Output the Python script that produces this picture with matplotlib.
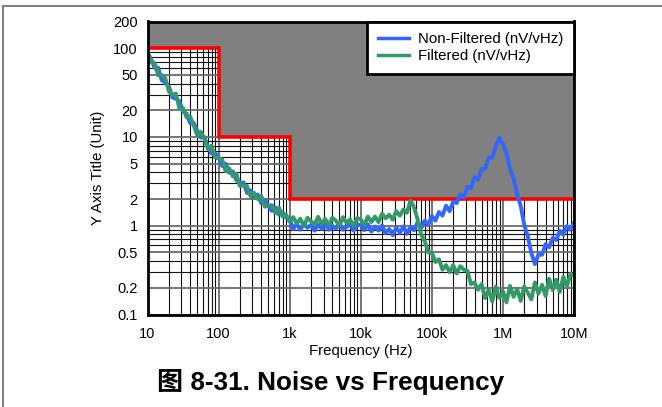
import numpy as np
import matplotlib
matplotlib.use("Agg")
import matplotlib.pyplot as plt
from matplotlib.lines import Line2D
from matplotlib.ticker import FixedLocator, NullFormatter

plt.rcParams['font.family'] = ['Liberation Sans', 'Noto Sans CJK SC', 'DejaVu Sans']

# ---- data ----
freq = np.logspace(1, 7, 121)  # 20 points per decade, 10 Hz .. 10 MHz

filtered = [85, 70, 68, 49.5, 50, 46, 32.7, 30, 30.8, 20.6,
            21.2, 16.6, 17, 13.5, 10.4, 11.4, 9.6, 7.3, 8.0, 5.9,
            5.7, 5.6, 4.1, 4.45, 3.6, 3.85, 2.8, 2.85, 2.8, 2.14,
            2.35, 2.0, 2.18, 1.64, 1.7, 1.7, 1.39, 1.6, 1.27, 1.33,
            1.11, 1.25, 1.06, 1.2, 0.99, 1.23, 1.12, 1.03, 1.26, 1.06,
            1.19, 1.01, 1.23, 1.14, 1.0, 1.25, 1.08, 1.18, 0.99, 1.22,
            1.18, 1.02, 1.27, 1.1, 1.27, 1.1, 1.37, 1.21, 1.33, 1.17,
            1.46, 1.3, 1.52, 1.4, 1.93, 1.6, 1.18, 0.79, 0.67, 0.5,
            0.5, 0.39, 0.42, 0.32, 0.36, 0.3, 0.36, 0.29, 0.35, 0.32,
            0.31, 0.22, 0.23, 0.19, 0.22, 0.153, 0.19, 0.14, 0.206, 0.154,
            0.184, 0.137, 0.21, 0.158, 0.193, 0.142, 0.207, 0.176, 0.148, 0.23,
            0.172, 0.216, 0.162, 0.253, 0.189, 0.247, 0.18, 0.266, 0.207, 0.288,
            0.275]

non_filtered = [90, 75.5, 60, 60.5, 43.7, 41, 37.3, 27.9, 27, 25.3,
                19.4, 18.3, 14.3, 14.4, 11.8, 9.8, 10, 7.7, 6.5, 6.6,
                5.9, 4.7, 5.0, 3.95, 4.1, 3.26, 3.04, 3.08, 2.34, 2.5,
                2.13, 2.25, 1.79, 1.97, 1.65, 1.47, 1.6, 1.33, 1.42, 1.23,
                1.2, 0.92, 1.05, 0.9, 1.06, 0.95, 1.02, 0.88, 1.04, 0.92,
                1.06, 0.9, 1.0, 0.93, 1.08, 0.9, 0.97, 1.04, 0.88, 1.02,
                1.03, 0.89, 1.04, 0.86, 0.98, 0.88, 1.01, 0.82, 0.92, 0.78,
                0.96, 0.83, 0.98, 0.81, 0.97, 0.89, 1.1, 0.94, 1.14, 1.03,
                1.29, 1.14, 1.43, 1.3, 1.68, 1.46, 1.86, 1.8, 2.26, 2.07,
                2.75, 2.65, 3.52, 3.31, 4.35, 4.42, 5.83, 5.86, 7.77, 9.8,
                8.3, 6.6, 4.37, 3.43, 2.26, 1.68, 1.02, 0.76, 0.49, 0.37,
                0.475, 0.47, 0.62, 0.57, 0.73, 0.69, 0.88, 0.79, 0.99, 0.9,
                1.08]

limit_freq = [10, 100, 100, 1000, 1000, 1e7]
limit_vals = [100, 100, 10, 10, 2, 2]

x_ticks = [10, 100, 1e3, 1e4, 1e5, 1e6, 1e7]
x_labels = ['10', '100', '1k', '10k', '100k', '1M', '10M']
y_ticks = [0.1, 0.2, 0.5, 1, 2, 5, 10, 20, 50, 100, 200]
y_labels = ['0.1', '0.2', '0.5', '1', '2', '5', '10', '20', '50', '100', '200']

# ---- figure ----
W, H = 662, 407
fig = plt.figure(figsize=(W / 100, H / 100), dpi=100)
L, R, T, B = 147.5, 574, 21.5, 314.5
ax = fig.add_axes([L / W, 1 - B / H, (R - L) / W, (B - T) / H])
ax.set_xscale('log')
ax.set_yscale('log')
ax.set_xlim(10, 1e7)
ax.set_ylim(0.1, 200)

ax.set_xticks(x_ticks)
ax.set_xticklabels(x_labels)
ax.set_yticks(y_ticks)
ax.set_yticklabels(y_labels)
xminor = [m * d for d in [10, 100, 1e3, 1e4, 1e5, 1e6] for m in range(2, 10)]
yminor = [m * d for d in [0.1, 1, 10, 100] for m in range(2, 10) if m * d not in y_ticks and m * d < 200]
ax.xaxis.set_minor_locator(FixedLocator(xminor))
ax.yaxis.set_minor_locator(FixedLocator(yminor))
ax.xaxis.set_minor_formatter(NullFormatter())
ax.yaxis.set_minor_formatter(NullFormatter())
ax.tick_params(which='both', length=0, labelsize=10.5, colors='black')
ax.tick_params(axis='x', pad=9)
ax.tick_params(axis='y', pad=7)

ax.set_axisbelow(True)
ax.grid(which='major', color='#6a6a6a', lw=1.3)
ax.grid(which='minor', color='#111111', lw=0.8)

ax.fill_between(limit_freq, limit_vals, 200, color='#808080', zorder=2, lw=0)
ax.plot(limit_freq, limit_vals, color='#ff0000', lw=2.6, zorder=3, solid_joinstyle='miter')

ax.plot(freq, non_filtered, color='#3366ff', lw=2.8, zorder=4, label='Non-Filtered (nV/vHz)')
ax.plot(freq, filtered, color='#339966', lw=2.8, zorder=5, label='Filtered (nV/vHz)')

for s in ax.spines.values():
    s.set_linewidth(2)
    s.set_color('black')
    s.set_zorder(6)

leg = ax.legend(loc='upper right', bbox_to_anchor=(1.0, 1.0), fontsize=10.8, frameon=True,
                fancybox=False, framealpha=1, edgecolor='black', borderaxespad=0,
                handlelength=2.1, handletextpad=0.6, borderpad=0.7, labelspacing=0.2)
leg.get_frame().set_linewidth(2)
leg.set_zorder(7)
for lh in leg.get_lines():
    lh.set_linewidth(2.5)

ax.set_xlabel('Frequency (Hz)', fontsize=10.8, labelpad=2)
ax.set_ylabel('Y Axis Title (Unit)', fontsize=10.8, labelpad=6)

fig.text(0.5, 1 - 382 / H, '图 8-31. Noise vs Frequency', ha='center', va='center',
         fontsize=18.8, fontweight='bold')

# figure frame lines
fig.add_artist(Line2D([0.005, 1.0], [0.985, 0.985], color='#808080', lw=1.5, transform=fig.transFigure))
fig.add_artist(Line2D([0.005, 0.005], [0.0, 0.985], color='#808080', lw=1.5, transform=fig.transFigure))

fig.savefig('out.png', dpi=100)
